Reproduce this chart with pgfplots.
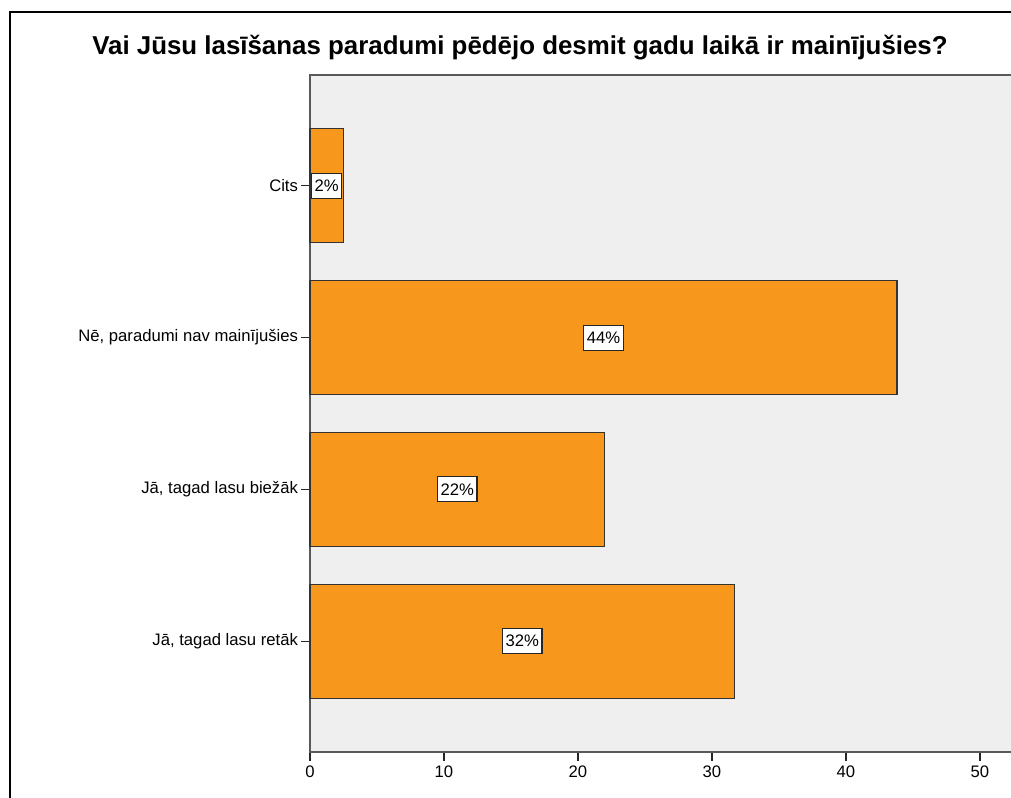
\documentclass[border=0pt]{standalone}
\usepackage{fontspec}
\setmainfont{Liberation Sans}
\usepackage{pgfplots}
\pgfplotsset{compat=1.18}
\definecolor{barorange}{RGB}{247,152,29}
\definecolor{plotbg}{RGB}{239,239,239}

\begin{document}
\begin{tikzpicture}
\useasboundingbox (0,0) rectangle (758.25pt,-598.5pt);
% outer frame (cropped at right and bottom)
\draw[line width=1.2pt] (7.5pt,-605pt) -- (7.5pt,-9pt) -- (765pt,-9pt);
\node[font=\bfseries\fontsize{19.4}{23}\selectfont] at (390pt,-36pt)
  {Vai Jūsu lasīšanas paradumi pēdējo desmit gadu laikā ir mainījušies?};
\begin{axis}[
  at={(232.5pt,-564pt)}, anchor=south west,
  scale only axis, width=527.6pt, height=507.75pt,
  xmin=0, xmax=52.5, ymin=-0.73, ymax=3.73,
  ytick={0,1,2,3},
  yticklabels={{Jā, tagad lasu retāk},{Jā, tagad lasu biežāk},{Nē, paradumi nav mainījušies},Cits},
  xtick={0,10,...,50},
  xtick pos=bottom, ytick pos=left,
  tick align=outside, major tick length=6.5pt,
  tick style={black!85, line width=1pt},
  axis line style={black!65, line width=1.1pt},
  axis background/.style={fill=plotbg},
  tick label style={font=\fontsize{12.5}{15}\selectfont},
  yticklabel style={xshift=1pt},
  /pgf/number format/assume math mode=true,
  clip=false,
]
\addplot[xbar, bar width=85.5pt, fill=barorange, draw=black!80, line width=0.9pt]
  coordinates {(31.7,0) (22,1) (43.8,2) (2.5,3)};
\addplot[only marks, mark=none, point meta=explicit symbolic, nodes near coords,
  every node near coord/.append style={anchor=center, fill=white, draw=black!85,
    line width=0.8pt, inner xsep=2.2pt, inner ysep=5pt, font=\fontsize{12.5}{15}\selectfont}]
  coordinates {(15.85,0) [32\%] (11,1) [22\%] (21.9,2) [44\%] (1.25,3) [2\%]};
\end{axis}
\end{tikzpicture}
\end{document}
